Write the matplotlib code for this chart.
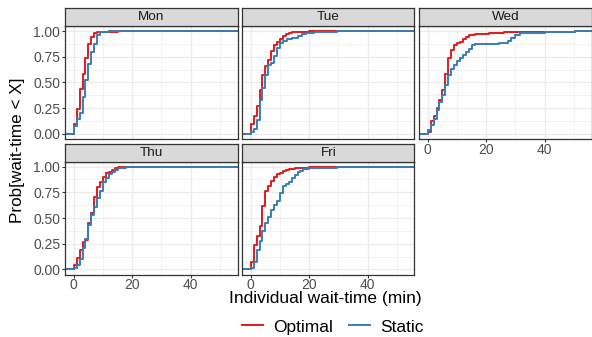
import matplotlib
matplotlib.use("Agg")
import matplotlib.pyplot as plt
from matplotlib.lines import Line2D

plt.rcParams['font.family'] = ['Liberation Sans', 'DejaVu Sans']

# ECDF steps: wait-time (min) and cumulative probability
days = ['Mon', 'Tue', 'Wed', 'Thu', 'Fri']

opt_x = {
    'Mon': [0, 1, 2, 3, 4, 5, 6, 7, 8, 10, 15],
    'Tue': [0, 1, 2, 3, 4, 5, 6, 7, 8, 9, 10, 11, 12, 13, 14, 20],
    'Wed': [0, 1, 2, 3, 4, 5, 6, 7, 8, 9, 10, 11, 12, 13, 14, 16, 21, 26, 50.5],
    'Thu': [0, 1, 2, 3, 4, 5, 6, 7, 8, 9, 10, 11, 12, 13, 14, 15],
    'Fri': [0, 1, 2, 3, 4, 5, 6, 7, 8, 9, 10, 11, 12, 13, 15, 17, 20, 31.5],
}
opt_y = {
    'Mon': [0.09, 0.24, 0.44, 0.58, 0.74, 0.87, 0.94, 0.98, 0.99, 0.995, 1.0],
    'Tue': [0.09, 0.17, 0.27, 0.43, 0.57, 0.66, 0.72, 0.81, 0.86, 0.89, 0.925,
            0.95, 0.97, 0.985, 0.99, 1.0],
    'Wed': [0.02, 0.12, 0.17, 0.25, 0.33, 0.43, 0.58, 0.74, 0.82, 0.86, 0.885,
            0.89, 0.92, 0.94, 0.96, 0.97, 0.98, 0.99, 1.0],
    'Thu': [0.04, 0.11, 0.19, 0.27, 0.29, 0.45, 0.55, 0.70, 0.80, 0.85, 0.90,
            0.935, 0.95, 0.97, 0.99, 1.0],
    'Fri': [0.075, 0.24, 0.32, 0.42, 0.62, 0.76, 0.81, 0.86, 0.90, 0.925, 0.94,
            0.955, 0.97, 0.98, 0.985, 0.99, 0.995, 1.0],
}
sta_x = {
    'Mon': [0, 1, 2, 3, 4, 5, 6, 7, 8, 9, 12],
    'Tue': [0, 1, 2, 3, 4, 5, 6, 7, 8, 9, 10, 11, 12.5, 14, 16, 17.5, 19, 21.5, 29.5],
    'Wed': [0, 1, 2, 3, 4, 5, 6, 7, 8, 9, 10, 11, 12, 13, 14, 15, 16, 24.5,
            27.5, 28.5, 30, 31.5, 40, 50.5],
    'Thu': [0, 1, 2, 3, 4, 5, 6, 7, 8, 9, 10, 11, 12, 13, 14, 15, 16, 18],
    'Fri': [0, 1, 2, 3, 4, 5, 6, 7, 8, 9, 10, 11, 12, 13, 14, 15, 16, 17, 18, 20, 29.5],
}
sta_y = {
    'Mon': [0.07, 0.14, 0.20, 0.36, 0.52, 0.68, 0.80, 0.87, 0.96, 0.99, 1.0],
    'Tue': [0.02, 0.05, 0.13, 0.33, 0.45, 0.57, 0.67, 0.69, 0.755, 0.84, 0.88,
            0.90, 0.92, 0.93, 0.95, 0.97, 0.985, 0.99, 1.0],
    'Wed': [0.035, 0.085, 0.14, 0.23, 0.31, 0.38, 0.47, 0.57, 0.63, 0.67, 0.71,
            0.74, 0.77, 0.80, 0.83, 0.86, 0.87, 0.88, 0.90, 0.93, 0.96, 0.985,
            0.99, 1.0],
    'Thu': [0.01, 0.04, 0.10, 0.205, 0.30, 0.43, 0.53, 0.61, 0.69, 0.76, 0.85,
            0.89, 0.925, 0.945, 0.97, 0.985, 0.99, 1.0],
    'Fri': [0.015, 0.075, 0.19, 0.275, 0.37, 0.45, 0.51, 0.58, 0.63, 0.665,
            0.74, 0.81, 0.83, 0.855, 0.885, 0.92, 0.945, 0.96, 0.98, 0.99, 1.0],
}

x_ticks = [0, 20, 40]
y_ticks = [0.0, 0.25, 0.5, 0.75, 1.0]
y_tick_labels = ['0.00', '0.25', '0.50', '0.75', '1.00']

red = '#E41A1C'
blue = '#377EB8'
dark = '#333333'

W, H = 592, 337
fig = plt.figure(figsize=(W / 100, H / 100), dpi=100)

pw, gap = 172.5, 4.5
lefts = [65, 65 + pw + gap, 65 + 2 * (pw + gap)]
rows = [(8, 26, 138.8), (144, 161.5, 274.5)]  # strip top, panel top, panel bottom


def frac(x0, y0, x1, y1):
    return [x0 / W, 1 - y1 / H, (x1 - x0) / W, (y1 - y0) / H]


for i, day in enumerate(days):
    r, c = divmod(i, 3)
    st, pt, pb = rows[r]
    x0 = lefts[c]
    ax = fig.add_axes(frac(x0, pt, x0 + pw, pb))
    ax.set_xlim(-3, 56)
    ax.set_ylim(-0.05, 1.05)
    ax.set_xticks(x_ticks)
    ax.set_xticks([10, 30, 50], minor=True)
    ax.set_yticks(y_ticks)
    ax.set_yticks([0.125, 0.375, 0.625, 0.875], minor=True)
    ax.grid(which='major', color='#EBEBEB', lw=0.9)
    ax.grid(which='minor', color='#EBEBEB', lw=0.45)
    ax.set_axisbelow(True)
    for s in ax.spines.values():
        s.set_color(dark)
        s.set_linewidth(0.9)
    ax.tick_params(which='minor', length=0)
    ax.tick_params(which='major', length=2.5, width=0.8, color=dark,
                   labelsize=10, labelcolor='#4D4D4D', pad=1)
    ax.tick_params(axis='x', pad=0.3)

    ax.step([-100] + opt_x[day] + [200], [0] + opt_y[day] + [1],
            where='post', color=red, lw=1.4)
    ax.step([-100] + sta_x[day] + [200], [0] + sta_y[day] + [1],
            where='post', color=blue, lw=1.4)

    if c == 0:
        ax.set_yticklabels(y_tick_labels)
    else:
        ax.tick_params(axis='y', length=0, labelleft=False)
    if r == 1 or day == 'Wed':
        ax.set_xticklabels([str(t) for t in x_ticks])
    else:
        ax.tick_params(axis='x', length=0, labelbottom=False)

    sax = fig.add_axes(frac(x0, st, x0 + pw, pt))
    sax.set_facecolor('#D9D9D9')
    sax.set_xticks([])
    sax.set_yticks([])
    for s in sax.spines.values():
        s.set_color(dark)
        s.set_linewidth(0.9)
    sax.text(0.5, 0.48, day, ha='center', va='center', fontsize=9.7,
             color='#1A1A1A', transform=sax.transAxes)

fig.text(18 / W, 1 - 150 / H, 'Prob[wait-time < X]', rotation=90,
         ha='center', va='center', fontsize=12.3)
fig.text(325 / W, 1 - 299 / H, 'Individual wait-time (min)',
         ha='center', va='center', fontsize=12.5)

handles = [Line2D([], [], color=red, lw=1.4), Line2D([], [], color=blue, lw=1.4)]
fig.legend(handles, ['Optimal', 'Static'], loc='center', ncol=2,
           bbox_to_anchor=(333 / W, 1 - 327 / H), frameon=False, fontsize=12.5,
           handlelength=1.2, handletextpad=0.6, columnspacing=0.9)

fig.savefig('out.png', dpi=100)
